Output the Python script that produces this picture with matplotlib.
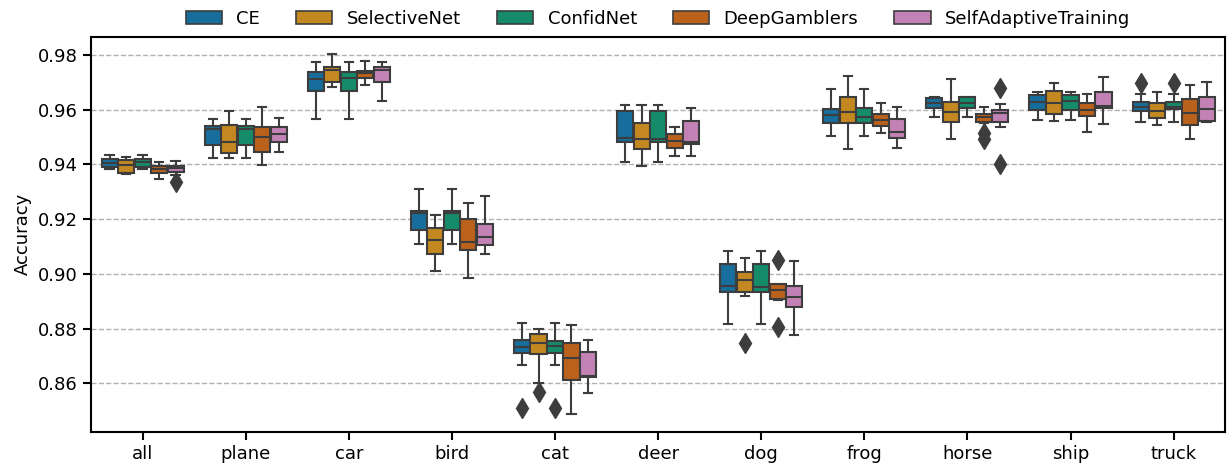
import matplotlib
matplotlib.use("Agg")
import matplotlib.pyplot as plt
from matplotlib.patches import Patch
import seaborn as sns

classes = ["all", "plane", "car", "bird", "cat", "deer", "dog", "frog", "horse", "ship", "truck"]
models = ["CE", "SelectiveNet", "ConfidNet", "DeepGamblers", "SelfAdaptiveTraining"]

# box statistics, one row per model, one column per class
whislo = [
    [.9382, .9422, .9565, .9111, .8667, .9408, .8815, .9505, .9574, .9562, .9554],
    [.9365, .9425, .9684, .9011, .8602, .9395, .8919, .9455, .9492, .9560, .9544],
    [.9383, .9422, .9565, .9111, .8667, .9408, .8815, .9505, .9574, .9562, .9554],
    [.9347, .9397, .9690, .8984, .8487, .9431, .8905, .9514, .9553, .9520, .9493],
    [.9361, .9447, .9632, .9072, .8565, .9432, .8776, .9459, .9536, .9547, .9554],
]
q1 = [
    [.9392, .9471, .9668, .9160, .8712, .9483, .8935, .9550, .9605, .9599, .9596],
    [.9369, .9443, .9702, .9072, .8707, .9455, .8935, .9550, .9556, .9584, .9569],
    [.9392, .9471, .9668, .9160, .8712, .9483, .8935, .9550, .9605, .9599, .9601],
    [.9367, .9447, .9715, .9087, .8612, .9459, .8907, .9540, .9556, .9577, .9544],
    [.9372, .9483, .9702, .9105, .8622, .9473, .8880, .9498, .9556, .9605, .9559],
]
med = [
    [.9406, .9528, .9711, .9221, .8734, .9498, .8955, .9581, .9623, .9629, .9611],
    [.9398, .9483, .9745, .9124, .8748, .9493, .8977, .9590, .9593, .9626, .9595],
    [.9409, .9528, .9715, .9221, .8736, .9492, .8953, .9574, .9626, .9633, .9611],
    [.9382, .9499, .9733, .9117, .8691, .9487, .8941, .9562, .9572, .9599, .9587],
    [.9386, .9510, .9745, .9136, .8625, .9483, .8916, .9520, .9587, .9614, .9601],
]
q3 = [
    [.9420, .9542, .9739, .9231, .8758, .9596, .9035, .9603, .9644, .9654, .9629],
    [.9416, .9544, .9757, .9166, .8779, .9550, .9008, .9648, .9627, .9670, .9623],
    [.9420, .9540, .9739, .9231, .8754, .9596, .9035, .9605, .9645, .9654, .9627],
    [.9394, .9538, .9743, .9199, .8746, .9510, .8963, .9584, .9584, .9626, .9639],
    [.9395, .9536, .9757, .9181, .8713, .9560, .8955, .9565, .9599, .9664, .9648],
]
whishi = [
    [.9434, .9565, .9776, .9309, .8819, .9617, .9085, .9676, .9645, .9664, .9657],
    [.9428, .9595, .9803, .9215, .8798, .9617, .9057, .9723, .9711, .9697, .9664],
    [.9434, .9565, .9776, .9309, .8819, .9617, .9085, .9676, .9645, .9664, .9657],
    [.9409, .9611, .9779, .9258, .8813, .9536, .8963, .9623, .9611, .9657, .9690],
    [.9411, .9569, .9776, .9284, .8758, .9605, .9047, .9609, .9620, .9721, .9700],
]

# outliers: model index, class index, value
flier_model = [4, 0, 1, 2, 1, 3, 3, 3, 3, 4, 4, 0, 2]
flier_class = [0, 4, 4, 4, 6, 6, 6, 8, 8, 8, 8, 10, 10]
flier_value = [.9335, .8508, .8569, .8508, .8748, .9050, .8804, .9516, .9494, .9678, .9400, .9697, .9697]

colors = sns.color_palette("colorblind", len(models), desat=0.75)
line_color = "#3d3d3d"

fig = plt.figure(figsize=(12.27, 4.67), dpi=100)
ax = fig.add_axes([0.0742, 0.0756, 0.9243, 0.8458])

width = 0.8 / len(models)
for m in range(len(models)):
    stats = []
    positions = []
    for c in range(len(classes)):
        fl = [v for mm, cc, v in zip(flier_model, flier_class, flier_value) if mm == m and cc == c]
        stats.append({
            "whislo": whislo[m][c], "q1": q1[m][c], "med": med[m][c],
            "q3": q3[m][c], "whishi": whishi[m][c], "fliers": fl,
        })
        positions.append(c - 0.4 + width * (m + 0.5))
    ax.bxp(stats, positions=positions, widths=width * 0.98, capwidths=width * 0.5,
           patch_artist=True, manage_ticks=False,
           boxprops=dict(facecolor=colors[m], edgecolor=line_color, linewidth=1.5),
           medianprops=dict(color=line_color, linewidth=1.5),
           whiskerprops=dict(color=line_color, linewidth=1.5),
           capprops=dict(color=line_color, linewidth=1.5),
           flierprops=dict(marker="d", markersize=10, markerfacecolor=line_color,
                           markeredgecolor=line_color))

ax.set_xticks(range(len(classes)))
ax.set_xticklabels(classes, fontsize=13)
ax.set_xlim(-0.5, len(classes) - 0.5)
ax.set_ylim(0.8423, 0.9867)
ax.set_yticks([0.86, 0.88, 0.90, 0.92, 0.94, 0.96, 0.98])
ax.set_yticklabels(["0.86", "0.88", "0.90", "0.92", "0.94", "0.96", "0.98"], fontsize=13)
ax.set_ylabel("Accuracy", fontsize=13)
ax.tick_params(length=6, width=1.5)
for s in ax.spines.values():
    s.set_linewidth(1.5)
ax.grid(axis="y", linestyle="--", color="#b0b0b0", linewidth=1.0)
ax.set_axisbelow(True)

handles = [Patch(facecolor=colors[m], edgecolor=line_color, linewidth=1.2, label=models[m])
           for m in range(len(models))]
ax.legend(handles=handles, loc="lower center", bbox_to_anchor=(0.5, 1.0), ncol=5,
          frameon=False, fontsize=13, borderaxespad=0.1)

plt.savefig("out.png", dpi=100)
